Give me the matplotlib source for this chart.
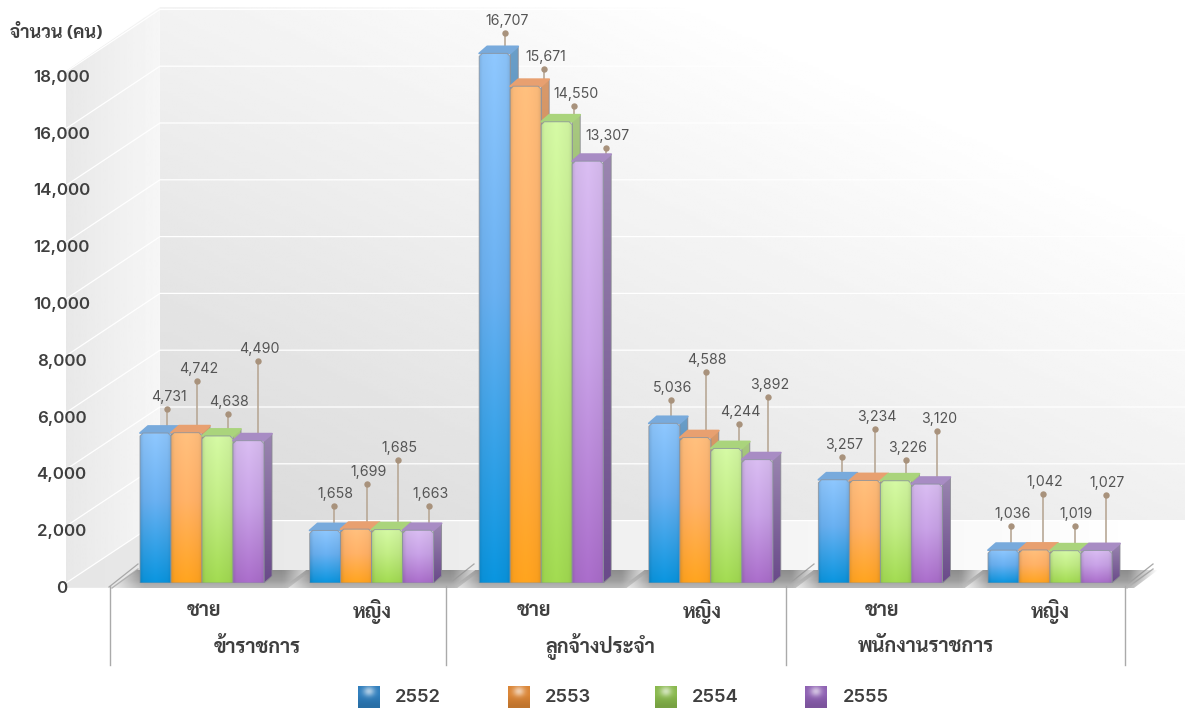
import numpy as np
import matplotlib
matplotlib.use('Agg')
import matplotlib.pyplot as plt
from matplotlib.patches import Polygon, Rectangle
from matplotlib.transforms import offset_copy
from matplotlib.colors import to_rgb

# data
years = ['2552', '2553', '2554', '2555']
sub_labels = ['ชาย', 'หญิง', 'ชาย', 'หญิง', 'ชาย', 'หญิง']
main_labels = ['ข้าราชการ', 'ลูกจ้างประจำ', 'พนักงานราชการ']
values_2552 = [4731, 1658, 16707, 5036, 3257, 1036]
values_2553 = [4742, 1699, 15671, 4588, 3234, 1042]
values_2554 = [4638, 1685, 14550, 4244, 3226, 1019]
values_2555 = [4490, 1663, 13307, 3892, 3120, 1027]
series = [values_2552, values_2553, values_2554, values_2555]
axis_ticks = list(range(0, 18001, 2000))
y_title = 'จำนวน (คน)'

# canvas and scale (pixels)
W, H = 1185, 712
BASE_Y = 583
GROUP_PX = 169.6
BAR_PX = 31
PX_PER_VALUE = 0.0317
WALL_PX_PER_VALUE = 0.0284
DEPTH_X, DEPTH_Y = 8, 7
BACK_Y = 520.6

# leader lines above each bar: length and horizontal position from the bar's left edge
leader_len = [[17, 45, 15, 73], [17, 38, 63, 17], [13, 10, 9, 6],
              [16, 59, 17, 56], [16, 44, 14, 46], [17, 49, 18, 48]]
leader_dx = [[27, 26, 26, 25], [24, 26, 26, 26], [26, 34, 33, 34],
             [22, 26, 28, 26], [24, 26, 26, 26], [23, 24, 25, 25]]

sub_x = [204, 372, 534, 702, 882, 1050]
main_x = [257, 600, 926]
bracket_x = [110, 446, 786, 1125]
legend_x = [358, 508, 655, 805]
legend_text_x = [395, 545, 692, 843]

# top, middle, bottom colours of the bar front, then side colours
front_cols = [['#8cc4fa', '#68aeee', '#0a93dc'],
              ['#ffbd7c', '#ffb066', '#ffa21e'],
              ['#d2f6a2', '#c0ea84', '#a0d850'],
              ['#d6baee', '#c6a0e4', '#a86cc8']]
side_cols = [['#6a9ec8', '#1f6aa8'],
             ['#d8996a', '#b87028'],
             ['#a8c880', '#76a440'],
             ['#9a85b0', '#6a4a8a']]
top_cols = ['#78aadc', '#e8a070', '#aad47c', '#a88cc4']
legend_cols = ['#2e7dbc', '#da8434', '#88b84c', '#8d60b2']

plt.rcParams['font.family'] = ['Inter', 'Sarabun', 'DejaVu Sans']
thai_font = ['Sarabun', 'DejaVu Sans']

fig = plt.figure(figsize=(W / 100, H / 100), dpi=100, facecolor='white')

# full canvas in pixels for wall, floor and captions
bg = fig.add_axes([0, 0, 1, 1], zorder=1)
bg.set_xlim(0, W)
bg.set_ylim(H, 0)
bg.axis('off')


def gradient(ax, img, box, clip_pts=None, z=1):
    im = ax.imshow(img, extent=box, aspect='auto', interpolation='bilinear', zorder=z,
                   cmap='gray', vmin=0, vmax=1)
    if clip_pts is not None:
        im.set_clip_path(Polygon(clip_pts, closed=True, transform=ax.transData))
    return im


# back wall fades to white towards the upper right
xx, yy = np.meshgrid(np.linspace(160, W, 200), np.linspace(7, BACK_Y, 200))
t = 0.00059 * (xx - 160) + 0.0013 * (BACK_Y - yy)
gradient(bg, 0.85 + 0.15 * np.clip(t, 0, 1), (160, W, BACK_Y, 7))

# left wall
wall_pts = [(66, BASE_Y), (160, BACK_Y), (160, 7), (66, 71)]
img = np.linspace(0.91, 0.965, 64).reshape(1, -1)
gradient(bg, img, (66, 160, BASE_Y, 7), wall_pts)

# floor
floor_pts = [(66, BASE_Y), (160, BACK_Y), (W, BACK_Y), (1125, BASE_Y + 5), (66, BASE_Y + 5)]
img = np.interp(np.linspace(66, W, 200), [66, 450, 1000, 1150], [0.90, 0.925, 0.98, 1.0]).reshape(1, -1)
gradient(bg, img, (66, W, BASE_Y + 5, BACK_Y), floor_pts)
bg.add_patch(Polygon([(0, BASE_Y), (66, BASE_Y), (0, 640)], color='white', zorder=1.5))

# grid lines on both walls
for v in axis_ticks:
    y_front = BASE_Y - v * WALL_PX_PER_VALUE
    y_back = BACK_Y - v * WALL_PX_PER_VALUE
    bg.plot([66, 160, W], [y_front, y_back, y_back], color='white', lw=0.9, zorder=2,
            solid_joinstyle='miter')

# white area below the floor, with a shadow band under each group
bg.add_patch(Rectangle((0, BASE_Y + 5), W, H, color='white', zorder=2.2))
for i in range(6):
    x0 = bracket_x[0] + i * (bracket_x[-1] - bracket_x[0]) / 6 + 3
    x1 = x0 + (bracket_x[-1] - bracket_x[0]) / 6 + 6
    pts = [(x0, BASE_Y + 5), (x0 + 24, BASE_Y - 13), (x1 + 24, BASE_Y - 13), (x1, BASE_Y + 5)]
    ramp = np.clip(np.minimum(np.linspace(0, 1, 60), np.linspace(1, 0, 60)) * 7, 0, 1)
    vert = np.interp(np.linspace(0, 1, 30), [0, 0.6, 0.8, 1], [0.55, 0.62, 0.68, 0.72])
    rgba = np.ones((30, 60, 4))
    rgba[..., :3] = vert[:, None, None]
    rgba[..., 3] = ramp[None, :]
    gradient(bg, rgba, (x0, x1 + 24, BASE_Y + 5, BASE_Y - 13), pts, z=2.4)

# separators between the main categories
for k, bx in enumerate(bracket_x):
    bg.plot([bx, bx], [BASE_Y + 3, 665], color='#aaaaaa', lw=1.0, zorder=3)
    bg.plot([bx - 1, bx + 28], [BASE_Y + 4, BASE_Y - 19], color='#a8a8a8', lw=0.9, zorder=2.3)
    if k in (0, 3):
        bg.plot([bx + 2, bx + 28], [BASE_Y + 5, BASE_Y - 14], color='#b4b4b4', lw=1.0, zorder=2.3)

# bars are drawn on their own axes, the value scale of the wall differs from it
x_lo = (bracket_x[0] - 202) / GROUP_PX
x_hi = (W - 202) / GROUP_PX
ax = fig.add_axes([bracket_x[0] / W, (H - BASE_Y) / H, (W - bracket_x[0]) / W, BASE_Y / H], zorder=2)
ax.patch.set_alpha(0)
ax.axis('off')
y_hi = BASE_Y / PX_PER_VALUE
bar_w = BAR_PX / GROUP_PX
dx_d = DEPTH_X / GROUP_PX
dy_d = DEPTH_Y / PX_PER_VALUE
round_x = 3 / GROUP_PX
round_y = 3 / PX_PER_VALUE


def front_image(cols):
    stops = np.array([to_rgb(c) for c in cols])
    rows = np.linspace(0, 1, 80)
    column = np.stack([np.interp(rows, [0, 0.45, 1], stops[:, c]) for c in range(3)], axis=1)
    shade = np.interp(np.linspace(0, 1, 24), [0, 0.1, 0.5, 0.9, 1], [0.9, 0.98, 1.02, 0.98, 0.92])
    return np.clip(column[:, None, :] * shade[None, :, None], 0, 1)


def side_image(cols):
    stops = np.array([to_rgb(c) for c in cols])
    rows = np.linspace(0, 1, 40)
    return np.stack([np.interp(rows, [0, 1], stops[:, c]) for c in range(3)], axis=1)[:, None, :]


z = 5
for j, vals in enumerate(series):
    for i, v in enumerate(vals):
        x0 = i + (j - 2) * bar_w
        x1 = x0 + bar_w
        # leader line and value
        lx = leader_dx[i][j]
        ln = leader_len[i][j]
        line_tr = offset_copy(ax.transData, fig=fig, x=lx, y=DEPTH_Y, units='dots')
        ax.plot([x0, x0], [v, v + ln / PX_PER_VALUE], color='#b8a896', lw=1.2, transform=line_tr,
                zorder=z, clip_on=False, solid_capstyle='butt')
        ax.plot([x0], [v + ln / PX_PER_VALUE], 'o', color='#a8927c', ms=4.6, mew=0,
                transform=line_tr, zorder=z, clip_on=False)
        ax.annotate(f'{v:,}', xy=(x0, v), xytext=(lx + 1.5, DEPTH_Y + ln + 12),
                    textcoords='offset pixels', ha='center', va='center', fontsize=10.2,
                    color='#555555', zorder=z, annotation_clip=False)
        # side and top faces
        side_pts = [(x1, 0), (x1 + dx_d, dy_d), (x1 + dx_d, v + dy_d), (x1, v)]
        gradient(ax, side_image(side_cols[j]), (x1, x1 + dx_d, 0, v + dy_d), side_pts, z=z + 0.1)
        ax.add_patch(Polygon(side_pts, closed=True, fill=False, ec='#8a8a92', lw=0.6, zorder=z + 0.2))
        top_pts = [(x0, v), (x0 + dx_d, v + dy_d), (x1 + dx_d, v + dy_d), (x1, v)]
        ax.add_patch(Polygon(top_pts, closed=True, fc=top_cols[j], ec=top_cols[j], lw=1.3,
                             joinstyle='round', zorder=z + 0.3))
        # front face, the upper corners are cut slightly
        front_pts = [(x0, 0), (x0, v - round_y), (x0 + round_x, v), (x1 - round_x, v),
                     (x1, v - round_y), (x1, 0)]
        gradient(ax, front_image(front_cols[j]), (x0, x1, 0, v), front_pts, z=z + 0.4)
        ax.add_patch(Polygon(front_pts, closed=True, fill=False, ec='#8a929c', lw=0.7,
                             alpha=0.8, joinstyle='round', zorder=z + 0.5))
        z += 1
ax.set_xlim(x_lo, x_hi)
ax.set_ylim(0, y_hi)

# value axis, only its labels are visible
tick_ax = fig.add_axes([61.5 / W, (H - 587) / H, 10 / W, 587 / H], zorder=3)
tick_ax.patch.set_alpha(0)
tick_ax.set_xticks([])
tick_ax.set_ylim(0, 587 / WALL_PX_PER_VALUE)
tick_ax.set_yticks(axis_ticks, [f'{v:,}' for v in axis_ticks])
tick_ax.tick_params(axis='y', length=0, pad=0, labelsize=12.2, labelcolor='#3f3f3f')
for lab in tick_ax.get_yticklabels():
    lab.set_fontweight('semibold')
    lab.set_ha('center')
for s in tick_ax.spines.values():
    s.set_visible(False)

# captions
top = fig.add_axes([0, 0, 1, 1], zorder=4)
top.axis('off')
top.text(10, 33, y_title, family=thai_font, fontsize=13, fontweight='bold', color='#3f3f3f', va='center')
for x, s in zip(sub_x, sub_labels):
    top.text(x, 611, s, family=thai_font, fontsize=14.3, fontweight='bold', color='#3f3f3f', ha='center', va='center')
for x, s in zip(main_x, main_labels):
    top.text(x, 647, s, family=thai_font, fontsize=14.3, fontweight='bold', color='#3f3f3f', ha='center', va='center')

# legend
u, w = np.meshgrid(np.linspace(-1, 1, 22), np.linspace(-1, 1, 22))
for x, tx, col, label in zip(legend_x, legend_text_x, legend_cols, years):
    base = np.array(to_rgb(col))
    glow = np.exp(-(u ** 2 / 0.3 + (w + 0.55) ** 2 / 0.22))[..., None]
    dark = np.clip((w + 0.2) * 0.12, 0, 0.12)[..., None]
    swatch = np.clip(base * (1 - dark) + glow * 0.6 * (1 - base), 0, 1)
    top.imshow(swatch, extent=(x, x + 22, 708, 686), aspect='auto', interpolation='bilinear')
    top.text(tx, 697, label, fontsize=13.2, fontweight='semibold', color='#3f3f3f', va='center')
top.set_xlim(0, W)
top.set_ylim(H, 0)

fig.savefig('out.png', dpi=100)
